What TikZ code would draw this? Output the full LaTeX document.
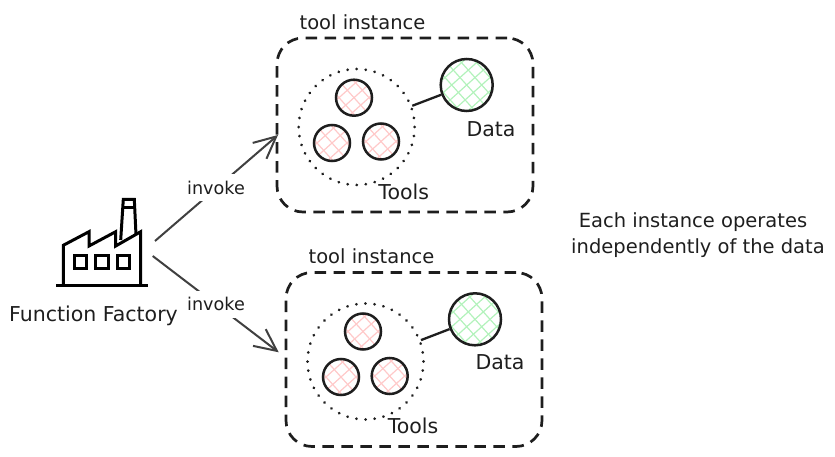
\documentclass[tikz,border=0pt]{standalone}
\usepackage{fontspec}
\setmainfont{DejaVu Sans}
\usetikzlibrary{arrows.meta}
\definecolor{ink}{HTML}{1E1E1E}
\definecolor{hatchred}{HTML}{FFC9C9}
\definecolor{hatchgreen}{HTML}{B2F2BB}
\newcommand{\hatchlines}[1]{%
  \foreach \d in {-90,-75,...,90}{%
    \draw[#1,line width=1.2pt] ([shift={(\d pt-50pt,-45pt)}]path picture bounding box.center) -- ([shift={(\d pt+50pt,45pt)}]path picture bounding box.center);
    \draw[#1,line width=1.2pt] ([shift={(\d pt-45pt,50pt)}]path picture bounding box.center) -- ([shift={(\d pt+45pt,-50pt)}]path picture bounding box.center);
  }}
\tikzset{
  x=1pt,y=-1pt,
  lbl/.style={text=ink,font=\fontsize{19.5}{23}\selectfont,inner sep=0pt,anchor=center},
  lblwide/.style={lbl,font=\fontsize{20.5}{24}\selectfont},
  toolball/.style={circle,draw=ink,line width=2.5pt,minimum size=36pt,inner sep=0pt,path picture={\hatchlines{hatchred}}},
  databall/.style={circle,draw=ink,line width=2.5pt,minimum size=52pt,inner sep=0pt,path picture={\hatchlines{hatchgreen}}},
  dotring/.style={circle,draw=ink,line width=3pt,line cap=round,dash pattern=on 0.01pt off 9.1pt,minimum size=116pt,inner sep=0pt},
  instbox/.style={draw=ink,line width=2.7pt,dash pattern=on 11.5pt off 7.5pt,rounded corners=26pt,minimum width=256pt,minimum height=174pt,inner sep=0pt},
  link/.style={draw=ink,line width=2.3pt},
  flow/.style={draw=ink!85,line width=2pt,-{Straight Barb[length=22pt,width=21pt,line width=2pt]}},
  flowlabel/.style={lbl,font=\fontsize{17.6}{21}\selectfont,fill=white,minimum width=58pt,minimum height=27pt},
  icon/.style={draw=black,line width=3pt,line join=miter}
}
\begin{document}
\begin{tikzpicture}
\useasboundingbox (0,0) rectangle (835,457);
% factory
\node[minimum width=92pt,minimum height=87pt,inner sep=0pt] (factory) at (102,242.5) {};
\draw[icon] (56,285.7) -- (147.7,285.7);
\draw[icon] (63.3,285.7) -- (63.3,245.3) -- (89,231.7) -- (89,246) -- (115.7,231.7) -- (115.7,246) -- (140.7,231.7) -- (140.7,285.7);
\draw[icon] (120.7,240) -- (123.3,199.3) -- (134.3,199.3) -- (136,235);
\draw[icon] (122.8,207.3) -- (134.7,207.3);
\draw[icon] (74,255.7) rectangle (86.7,268.3);
\draw[icon] (95.5,255.7) rectangle (108.2,268.3);
\draw[icon] (117.2,255.7) rectangle (129.9,268.3);
\node[lblwide] (factorylabel) at (93.5,316) {Function Factory};
% instance 1
\node[instbox] (box1) at (405,125) {};
\node[lbl] (title1) at (362.5,22) {tool instance};
\node[dotring] (ring1) at (356.7,127) {};
\node[toolball] (t1a) at (354,97.7) {};
\node[toolball] (t1b) at (332,143) {};
\node[toolball] (t1c) at (381,141.5) {};
\node[databall] (data1) at (466.7,85) {};
\node[lblwide] (data1label) at (491,129) {Data};
\node[lblwide] (tools1label) at (403.7,192) {Tools};
\draw[link] (ring1) -- (data1);
% instance 2
\node[instbox] (box2) at (414,359.5) {};
\node[lbl] (title2) at (371.5,256) {tool instance};
\node[dotring] (ring2) at (365.5,361.5) {};
\node[toolball] (t2a) at (363,331.5) {};
\node[toolball] (t2b) at (341,377) {};
\node[toolball] (t2c) at (389.7,376) {};
\node[databall] (data2) at (475,319.3) {};
\node[lblwide] (data2label) at (500,362) {Data};
\node[lblwide] (tools2label) at (413,426) {Tools};
\draw[link] (ring2) -- (data2);
% connectors
\coordinate (outA) at (155,241);
\coordinate (inA) at (278,135);
\coordinate (outB) at (152.7,256);
\coordinate (inB) at (278.7,352.3);
\draw[flow] (outA) -- (inA);
\draw[flow] (outB) -- (inB);
\node[flowlabel] (invoke1) at (216,188) {invoke};
\node[flowlabel] (invoke2) at (216,304) {invoke};
% note
\node[lbl] (note1) at (693,222) {Each instance operates};
\node[lbl] (note2) at (698,248) {independently of the data};
\end{tikzpicture}
\end{document}
